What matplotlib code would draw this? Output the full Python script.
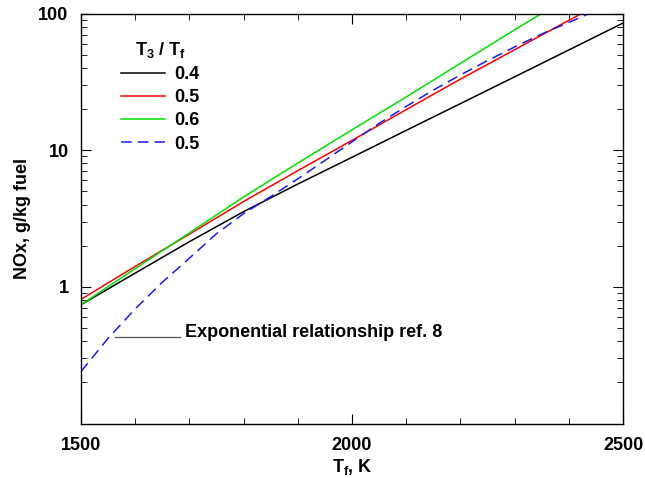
import matplotlib.pyplot as plt
from matplotlib.ticker import MultipleLocator, LogLocator, NullFormatter, FixedLocator, FixedFormatter

plt.rcParams['font.family'] = ['Liberation Sans', 'DejaVu Sans']
plt.rcParams['font.weight'] = 'bold'
plt.rcParams['mathtext.fontset'] = 'custom'
plt.rcParams['mathtext.rm'] = 'Liberation Sans:bold'
plt.rcParams['mathtext.it'] = 'Liberation Sans:bold'
plt.rcParams['mathtext.bf'] = 'Liberation Sans:bold'

# flame temperature, K
T_100 = [1500, 1600, 1700, 1800, 1900, 2000, 2100, 2200, 2300, 2400, 2500]
T_green = [1500, 1600, 1700, 1800, 1900, 2000, 2100, 2200, 2300, 2400]
T_50 = [1500, 1550, 1600, 1650, 1700, 1750, 1800, 1850, 1900, 1950, 2000,
        2050, 2100, 2150, 2200, 2250, 2300, 2350, 2400, 2450]

# NOx, g/kg fuel
nox_04 = [0.74, 1.26, 2.14, 3.55, 5.65, 8.87, 13.96, 21.9, 34.4, 54.1, 85.1]
nox_05 = [0.81, 1.41, 2.43, 4.21, 7.08, 11.8, 19.8, 33.1, 54.3, 89.1, 145]
nox_06 = [0.74, 1.36, 2.48, 4.55, 8.04, 14.1, 24.5, 43.2, 75.9, 132]
nox_05_exp = [0.24, 0.42, 0.69, 1.08, 1.62, 2.45, 3.43, 4.57, 6.17, 8.41, 11.5,
              15.7, 20.9, 27.5, 35.5, 45.2, 56.9, 70.8, 86.1, 105]

fs = 13

fig = plt.figure(figsize=(6.45, 4.78), dpi=100)
ax = fig.add_axes([81/645, 1 - 423.5/478, (623-81)/645, (423.5-13.5)/478])

ax.plot(T_100, nox_04, color='black', lw=1.1, label='0.4')
ax.plot(T_100, nox_05, color='#ff0000', lw=1.1, label='0.5')
ax.plot(T_green, nox_06, color='#00e000', lw=1.1, label='0.6')
ax.plot(T_50, nox_05_exp, color='#1a1aff', lw=1.1, ls=(0, (7, 4)), label='0.5')

ax.set_yscale('log')
ax.set_xlim(1500, 2500)
ax.set_ylim(0.1, 100)

ax.xaxis.set_major_locator(FixedLocator([1500, 2000, 2500]))
ax.xaxis.set_minor_locator(MultipleLocator(100))
ax.yaxis.set_major_locator(FixedLocator([1, 10, 100]))
ax.yaxis.set_major_formatter(FixedFormatter(['1', '10', '100']))
ax.yaxis.set_minor_locator(LogLocator(base=10, subs=range(2, 10)))
ax.yaxis.set_minor_formatter(NullFormatter())

ax.tick_params(which='both', direction='in', top=True, right=True, labelsize=fs)
ax.tick_params(axis='y', which='major', length=7, pad=9)
ax.tick_params(axis='x', which='major', length=7, pad=10)
ax.tick_params(which='minor', length=4)
for s in ax.spines.values():
    s.set_linewidth(1.0)

ax.set_xlabel('T$_\\mathregular{f}$, K', fontsize=fs, fontweight='bold', labelpad=2)
ax.set_ylabel('NOx, g/kg fuel', fontsize=fs, fontweight='bold', labelpad=5)

leg = ax.legend(title='T$_\\mathregular{3}$ / T$_\\mathregular{f}$', frameon=False,
                loc='upper left', bbox_to_anchor=(0.043, 0.975),
                fontsize=fs, title_fontsize=fs, handlelength=2.45,
                handletextpad=0.55, labelspacing=0.34)
leg.get_title().set_fontweight('bold')

ax.text(1692, 0.43, 'Exponential relationship ref. 8', fontsize=fs,
        fontweight='bold', va='baseline', ha='left')
ax.plot([1563, 1683], [0.43, 0.43], color='#555555', lw=0.9)

fig.savefig('out.png', dpi=100)
